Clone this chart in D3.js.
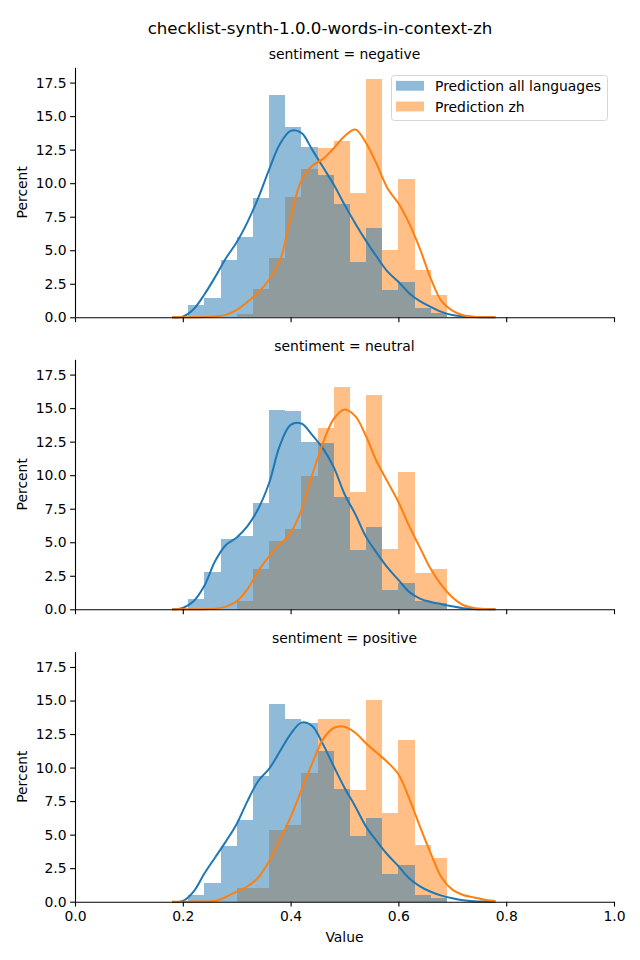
<!DOCTYPE html>
<html><head><meta charset="utf-8">
<script src="https://cdn.jsdelivr.net/npm/d3@7"></script>
<style>body{margin:0;background:#fff} text{font-family:"DejaVu Sans",sans-serif;fill:#000}</style>
</head><body><svg id="c" width="640" height="960"></svg>
<script>
const title = "checklist-synth-1.0.0-words-in-context-zh";
const sentiments = ["negative", "neutral", "positive"];
const seriesNames = ["Prediction all languages", "Prediction zh"];
const binEdges = [0.21,0.24,0.27,0.30,0.33,0.36,0.39,0.42,0.45,0.48,0.51,0.54,0.57,0.60,0.63,0.66,0.69];

// histogram percents (16 bins)
const allNegative = [0.92,1.44,4.27,5.99,8.92,16.58,14.19,12.70,10.61,8.45,4.12,6.63,2.03,2.66,0.67,0.30];
const zhNegative  = [0,0,0,0.25,2.11,4.42,8.97,11.06,12.60,13.15,9.25,17.76,5.02,10.31,3.52,1.66];
const allNeutral  = [0.77,2.78,5.27,5.47,7.95,14.86,14.79,12.48,12.41,8.40,4.45,6.14,1.44,1.96,0.60,0.45];
const zhNeutral   = [0,0,0,0.62,3.00,5.09,6.01,9.94,13.54,16.58,8.75,15.98,4.50,10.24,2.71,3.00];
const allPositive = [0.50,1.39,4.16,6.10,9.38,14.74,13.62,13.33,11.24,8.40,4.90,6.24,2.07,2.74,0.50,0.25];
const zhPositive  = [0,0,0,1.02,1.02,5.35,5.72,9.60,13.62,13.62,8.33,15.04,6.62,12.07,4.23,3.26];

// KDE curves sampled on kdeX
const kdeX = [0.18,0.20,0.22,0.24,0.26,0.28,0.30,0.32,0.34,0.36,0.38,0.40,0.42,0.44,0.46,0.48,0.50,0.52,0.54,0.56,0.58,0.60,0.62,0.64,0.66,0.68,0.70,0.72,0.74,0.76,0.78];
const kdeAllNegative = [0,0.05,0.6,1.7,3.0,4.4,5.6,7.1,8.9,11.0,12.9,13.9,13.75,12.5,11.2,9.9,8.4,7.0,5.7,4.5,3.4,2.65,1.8,1.2,0.78,0.4,0.17,0.06,0.02,0.01,0];
const kdeZhNegative  = [0,0,0.01,0.02,0.06,0.18,0.55,1.15,1.85,2.8,4.2,7.4,10.2,11.3,11.8,12.6,13.5,14.0,13.0,11.4,9.6,8.5,7.0,5.1,2.9,1.2,0.5,0.15,0.05,0.02,0];
const kdeAllNeutral  = [0,0.1,0.6,1.75,3.6,4.8,5.35,6.2,7.5,9.4,12.2,13.75,13.85,13.0,12.0,10.6,8.6,7.1,5.4,4.2,3.1,2.2,1.3,0.8,0.55,0.38,0.22,0.08,0.03,0.01,0];
const kdeZhNeutral   = [0,0,0,0.01,0.04,0.2,0.6,1.5,2.85,3.95,4.8,5.7,7.4,10.0,12.4,14.2,14.9,14.4,12.9,11.0,9.5,8.0,6.2,4.6,3.0,1.8,0.9,0.32,0.1,0.03,0];
const kdeAllPositive = [0,0.05,0.75,2.1,3.3,4.5,5.8,7.5,9.0,9.9,11.2,12.5,13.35,13.1,11.75,10.1,8.5,7.1,5.6,4.5,3.5,2.65,1.75,1.15,0.74,0.45,0.25,0.1,0.03,0.01,0];
const kdeZhPositive  = [0,0,0.01,0.02,0.06,0.35,0.75,1.15,1.8,3.0,4.6,6.3,8.3,10.3,12.1,12.95,13.05,12.6,11.8,11.1,10.4,9.5,7.7,5.6,3.6,1.8,0.9,0.5,0.32,0.15,0.05];

const xTicks = [0, 0.2, 0.4, 0.6, 0.8, 1.0];
const yTicks = [0, 2.5, 5, 7.5, 10, 12.5, 15, 17.5];
const yMax = 18.64;

const histAll = [allNegative, allNeutral, allPositive];
const histZh = [zhNegative, zhNeutral, zhPositive];
const kdeAll = [kdeAllNegative, kdeAllNeutral, kdeAllPositive];
const kdeZh = [kdeZhNegative, kdeZhNeutral, kdeZhPositive];

const blue = "#1f77b4", orange = "#ff7f0e";
const svg = d3.select("#c");
const left = 75, right = 614, panelH = 250;
const tops = [67.3, 359.3, 651.7];
const x = d3.scaleLinear().domain([0, 1]).range([left, right]);

svg.append("text").attr("x", 320).attr("y", 33.5).attr("text-anchor", "middle")
  .style("font-size", "16.67px").text(title);

sentiments.forEach((s, i) => {
  const top = tops[i], bottom = top + panelH;
  const y = d3.scaleLinear().domain([0, yMax]).range([bottom, top]);
  const g = svg.append("g");
  const bins = binEdges.slice(0, -1).map((e, k) => ({x0: e, x1: binEdges[k + 1], k}));

  const drawBars = (vals, color) => {
    g.append("g").attr("shape-rendering", "crispEdges").selectAll("rect")
      .data(bins.filter(b => vals[b.k] > 0)).join("rect")
      .attr("x", b => Math.round(x(b.x0)))
      .attr("width", b => Math.round(x(b.x1)) - Math.round(x(b.x0)))
      .attr("y", b => y(vals[b.k]))
      .attr("height", b => bottom - y(vals[b.k]))
      .attr("fill", color).attr("fill-opacity", 0.5);
  };
  drawBars(histZh[i], orange);
  drawBars(histAll[i], blue);

  const line = d3.line().x((d, k) => x(kdeX[k])).y(d => Math.min(y(d), bottom)).curve(d3.curveCatmullRom.alpha(0.5));
  g.append("path").attr("d", line(kdeAll[i])).attr("fill", "none").attr("stroke", blue).attr("stroke-width", 2);
  g.append("path").attr("d", line(kdeZh[i])).attr("fill", "none").attr("stroke", orange).attr("stroke-width", 2);

  const ya = g.append("g").attr("transform", `translate(${left},0)`)
    .call(d3.axisLeft(y).tickValues(yTicks).tickFormat(d3.format(".1f")).tickSize(4.9).tickPadding(3.5).tickSizeOuter(0));
  const xa = g.append("g").attr("transform", `translate(0,${bottom})`)
    .call(d3.axisBottom(x).tickValues(xTicks).tickFormat(i === 2 ? d3.format(".1f") : () => "").tickSize(4.9).tickPadding(4.9).tickSizeOuter(0));
  [ya, xa].forEach(a => {
    a.selectAll("text").style("font-size", "13.9px").attr("font-family", "DejaVu Sans").attr("fill", "#000");
    a.selectAll("line").attr("stroke", "#000").attr("stroke-width", 1.1);
    a.select(".domain").attr("stroke", "#000").attr("stroke-width", 1.1);
  });

  g.append("text").attr("x", (left + right) / 2).attr("y", top - 8.3).attr("text-anchor", "middle")
    .style("font-size", "13.9px").text(`sentiment = ${s}`);
  g.append("text").attr("transform", `translate(22,${top + panelH / 2}) rotate(-90)`)
    .attr("text-anchor", "middle").attr("dy", "0.35em").style("font-size", "13.9px").text("Percent");
});

svg.append("text").attr("x", (left + right) / 2).attr("y", 942).attr("text-anchor", "middle")
  .style("font-size", "13.9px").text("Value");

// legend
const lg = svg.append("g");
lg.append("rect").attr("x", 391.5).attr("y", 75.5).attr("width", 216).attr("height", 45).attr("rx", 2.8)
  .attr("fill", "#fff").attr("fill-opacity", 0.8).attr("stroke", "#d6d6d6").attr("stroke-width", 1);
seriesNames.forEach((n, k) => {
  const cy = 85.8 + k * 20.7;
  lg.append("rect").attr("x", 396).attr("y", cy - 4.9).attr("width", 28).attr("height", 9.8)
    .attr("fill", k === 0 ? blue : orange).attr("fill-opacity", 0.5);
  lg.append("text").attr("x", 435).attr("y", cy + 5).style("font-size", "13.9px").text(n);
});
</script></body></html>
